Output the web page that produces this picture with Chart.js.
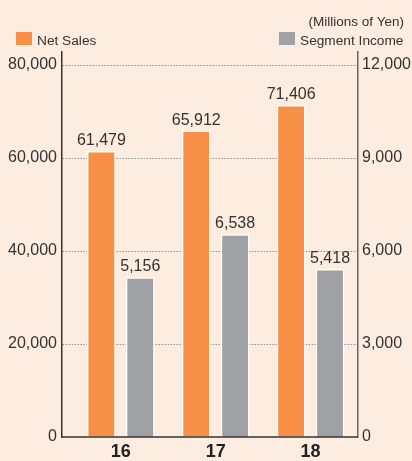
<!DOCTYPE html>
<html>
<head>
<meta charset="utf-8">
<script src="https://cdn.jsdelivr.net/npm/chart.js@4"></script>
<style>
  html, body { margin: 0; padding: 0; background: #fdece0; }
  #wrap { width: 412px; height: 461px; position: relative; }
</style>
</head>
<body>
<div id="wrap"><canvas id="sales-chart" width="412" height="461"></canvas></div>
<script>
// fiscal years and values (millions of yen)
const years = ['16', '17', '18'];
const netSales = [61479, 65912, 71406];
const segmentIncome = [5156, 6538, 5418];
const salesTicks = [0, 20000, 40000, 60000, 80000];
const incomeTicks = [0, 3000, 6000, 9000, 12000];

const FONT = '"Liberation Sans", Arial, sans-serif';
const ORANGE = '#f78f47';
const GRAY = '#a0a1a5';
const TEXT = '#333333';

const fmt = v => v.toLocaleString('en-US');

// legend + unit note across the top
const headerPlugin = {
  id: 'header',
  afterDraw(chart) {
    const c = chart.ctx;
    c.save();
    c.textBaseline = 'alphabetic';
    c.font = '13.5px ' + FONT;
    c.fillStyle = TEXT;
    c.textAlign = 'right';
    c.fillText('(Millions of Yen)', 404, 26);

    c.fillStyle = ORANGE;
    c.fillRect(16, 32, 16, 13);
    c.fillStyle = GRAY;
    c.fillRect(279, 32, 16, 13);

    c.fillStyle = TEXT;
    c.textAlign = 'left';
    c.font = '13.7px ' + FONT;
    c.fillText('Net Sales', 37, 45);
    c.fillText('Segment Income', 300, 45);
    c.restore();
  }
};

// value above each bar, and the baseline drawn over the bar feet
const valueLabels = {
  id: 'valueLabels',
  afterDatasetsDraw(chart) {
    const c = chart.ctx;
    const area = chart.chartArea;
    c.save();
    c.strokeStyle = '#333';
    c.lineWidth = 1.5;
    c.beginPath();
    c.moveTo(area.left, area.bottom);
    c.lineTo(area.right, area.bottom);
    c.stroke();

    c.font = '16px ' + FONT;
    c.fillStyle = TEXT;
    c.textAlign = 'center';
    c.textBaseline = 'alphabetic';
    chart.data.datasets.forEach((ds, i) => {
      chart.getDatasetMeta(i).data.forEach((bar, j) => {
        c.fillText(fmt(ds.data[j].y), bar.x, bar.y - 6);
      });
    });
    c.restore();
  }
};

const toPoints = vals => vals.map((v, i) => ({ x: i + 1, y: v }));

new Chart(document.getElementById('sales-chart'), {
  type: 'bar',
  data: {
    datasets: [
      {
        label: 'Net Sales',
        data: toPoints(netSales),
        backgroundColor: ORANGE,
        borderColor: '#ffffff',
        borderWidth: 1.5,
        borderSkipped: 'bottom',
        yAxisID: 'ySales',
        categoryPercentage: 0.82,
        barPercentage: 0.74
      },
      {
        label: 'Segment Income',
        data: toPoints(segmentIncome),
        backgroundColor: GRAY,
        borderColor: '#ffffff',
        borderWidth: 1.5,
        borderSkipped: 'bottom',
        yAxisID: 'yIncome',
        categoryPercentage: 0.82,
        barPercentage: 0.74
      }
    ]
  },
  options: {
    responsive: false,
    animation: false,
    layout: { padding: { top: 52, left: 0, right: 0, bottom: 0 } },
    plugins: {
      legend: { display: false },
      tooltip: { enabled: false }
    },
    scales: {
      x: {
        type: 'linear',
        offset: false,
        min: 0.38,
        max: 3.5,
        grid: { display: false, drawTicks: false, offset: false },
        border: { display: false },
        afterFit: s => { s.height = 24; },
        afterBuildTicks: s => { s.ticks = years.map((y, i) => ({ value: i + 1 })); },
        ticks: {
          padding: 4,
          color: '#222',
          font: { family: FONT, size: 18, weight: 'bold' },
          callback: v => years[v - 1] ?? ''
        }
      },
      ySales: {
        position: 'left',
        min: 0,
        max: 80000 * 385 / 372,
        afterFit: s => { s.width = 62; },
        afterBuildTicks: s => { s.ticks = salesTicks.map(v => ({ value: v })); },
        border: { display: true, color: '#333', width: 1.5, dash: [1.5, 1.5] },
        grid: {
          drawTicks: false,
          color: ctx => (ctx.tick && ctx.tick.value === 0 ? 'rgba(0,0,0,0)' : '#8f8f8f'),
          lineWidth: 1
        },
        ticks: {
          padding: 5,
          color: TEXT,
          font: { family: FONT, size: 16 },
          callback: v => fmt(v)
        }
      },
      yIncome: {
        position: 'right',
        min: 0,
        max: 12000 * 385 / 372,
        afterFit: s => { s.width = 54; },
        afterBuildTicks: s => { s.ticks = incomeTicks.map(v => ({ value: v })); },
        border: { display: true, color: '#666', width: 1.5 },
        grid: { display: false, drawTicks: false },
        ticks: {
          padding: 4,
          color: TEXT,
          font: { family: FONT, size: 16 },
          callback: v => fmt(v)
        }
      }
    }
  },
  plugins: [headerPlugin, valueLabels]
});
</script>
</body>
</html>
